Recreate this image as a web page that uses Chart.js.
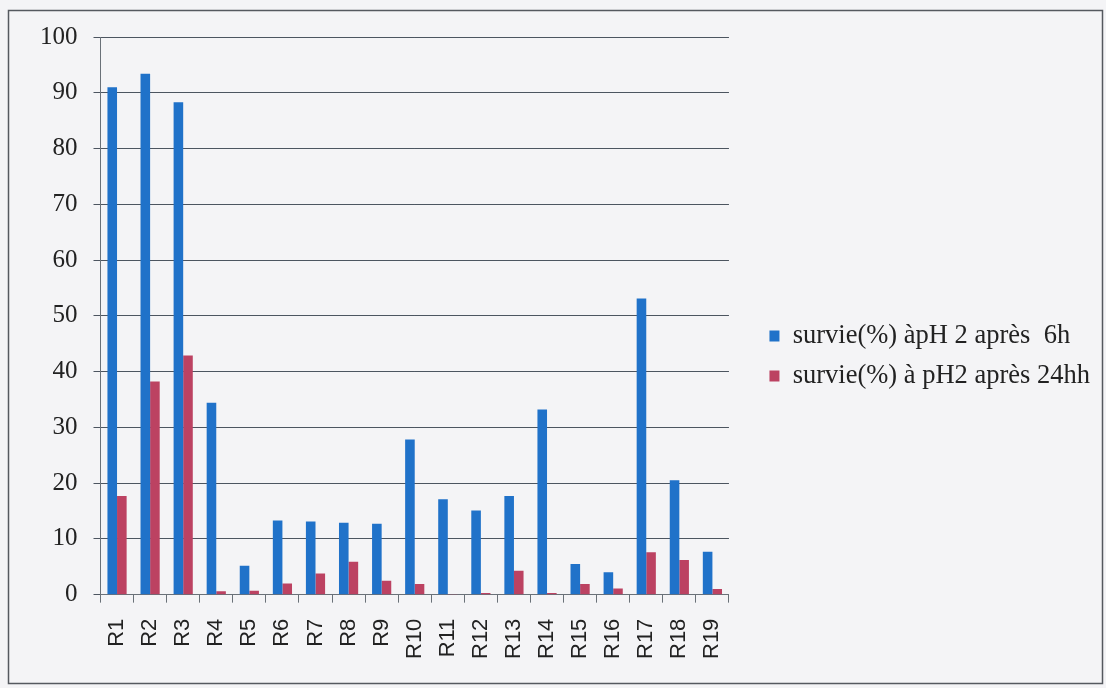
<!DOCTYPE html>
<html>
<head>
<meta charset="utf-8">
<script src="https://cdn.jsdelivr.net/npm/chart.js@4"></script>
<style>
  html, body { margin: 0; padding: 0; background: #f4f4f6; }
  #survieChart { display: block; }
</style>
</head>
<body>
<canvas id="survieChart" width="1106" height="688"></canvas>
<script>
const souches = [
  "R1", "R2", "R3", "R4", "R5", "R6", "R7", "R8", "R9", "R10",
  "R11", "R12", "R13", "R14", "R15", "R16", "R17", "R18", "R19"
];

const survie6h = [91.0, 93.4, 88.3, 34.4, 5.2, 13.3, 13.1, 12.9, 12.7, 27.8,
                  17.1, 15.1, 17.7, 33.2, 5.5, 4.0, 53.1, 20.5, 7.7];
const survie24h = [17.7, 38.2, 42.9, 0.6, 0.7, 2.0, 3.8, 5.9, 2.5, 1.9,
                   0.1, 0.3, 4.3, 0.3, 1.9, 1.1, 7.6, 6.2, 1.0];

const yTicks = [0, 10, 20, 30, 40, 50, 60, 70, 80, 90, 100];

// outer frame round the whole chart
const framePlugin = {
  id: 'frame',
  beforeDraw(chart) {
    const c = chart.ctx;
    c.save();
    c.fillStyle = '#f4f4f6';
    c.fillRect(0, 0, chart.width, chart.height);
    c.strokeStyle = '#55595f';
    c.lineWidth = 1.5;
    c.strokeRect(8.5, 10.5, 1094, 673);
    c.restore();
  }
};

const ctx = document.getElementById('survieChart').getContext('2d');

const chart = new Chart(ctx, {
  type: 'bar',
  data: {
    labels: souches,
    datasets: [
      {
        label: 'survie(%) àpH 2 après  6h',
        data: survie6h,
        backgroundColor: '#2072c9',
        borderWidth: 0
      },
      {
        label: 'survie(%) à pH2 après 24hh',
        data: survie24h,
        backgroundColor: '#bc4262',
        borderWidth: 0
      }
    ]
  },
  options: {
    responsive: false,
    animation: false,
    datasets: {
      bar: { barPercentage: 1.0, categoryPercentage: 0.58 }
    },
    layout: {
      padding: { top: 37, left: 24, right: 6, bottom: 13 }
    },
    plugins: {
      legend: {
        position: 'right',
        maxWidth: 420,
        labels: {
          boxWidth: 10,
          boxHeight: 11,
          padding: 13.5,
          color: '#222',
          font: { family: '"Liberation Serif", "Times New Roman", serif', size: 26.5 }
        }
      },
      tooltip: { enabled: false }
    },
    scales: {
      x: {
        grid: {
          drawOnChartArea: false,
          drawTicks: true,
          tickLength: 8,
          color: '#6a7178'
        },
        border: { color: '#6a7178', width: 1 },
        ticks: {
          minRotation: 90,
          maxRotation: 90,
          padding: 16,
          color: '#222',
          font: { family: '"Liberation Sans", Arial, sans-serif', size: 22 }
        }
      },
      y: {
        min: 0,
        max: 100,
        afterBuildTicks(scale) {
          scale.ticks = yTicks.map(v => ({ value: v }));
        },
        grid: {
          color: '#4c5560',
          lineWidth: 1,
          tickLength: 7
        },
        border: { color: '#6a7178', width: 1 },
        ticks: {
          padding: 16,
          color: '#222',
          font: { family: '"Liberation Serif", "Times New Roman", serif', size: 25 }
        }
      },
      // empty right-hand axis, keeps a gap between plot and legend
      gap: {
        type: 'linear',
        position: 'right',
        display: true,
        grid: { display: false },
        border: { display: false },
        ticks: { display: false },
        afterFit(scale) { scale.width = 27; }
      }
    }
  },
  plugins: [framePlugin]
});
</script>
</body>
</html>
